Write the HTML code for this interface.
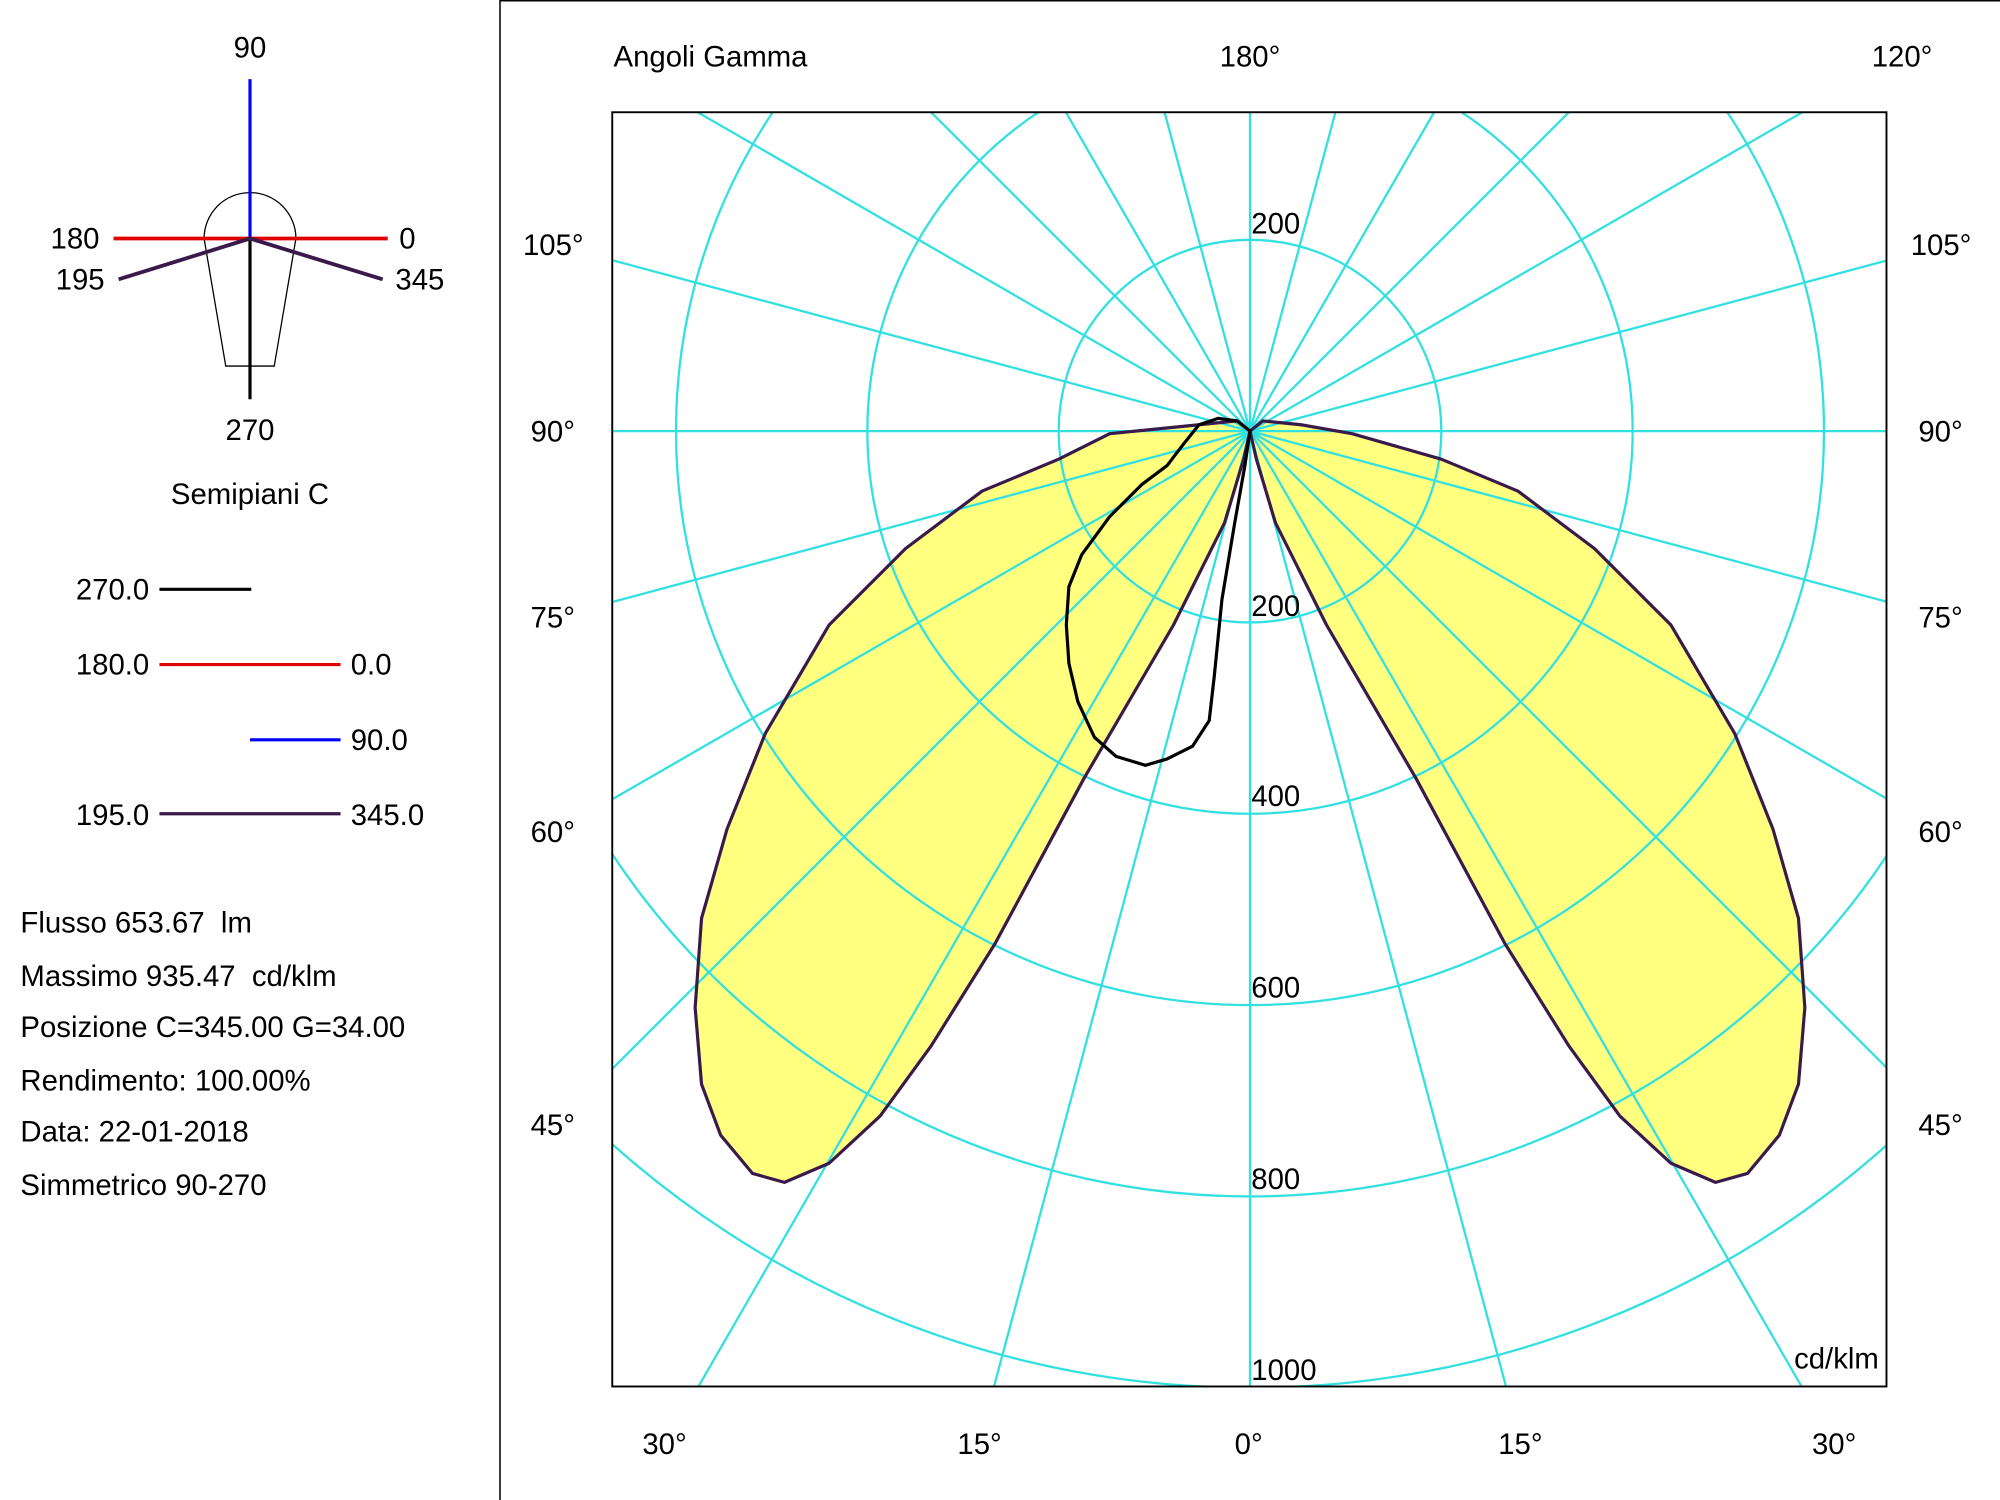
<!DOCTYPE html>
<html><head><meta charset="utf-8"><style>
html,body{margin:0;padding:0;background:#fff;overflow:hidden;width:2000px;height:1500px}
svg{display:block}
text{font-family:"Liberation Sans",Arial,sans-serif;font-size:23px;fill:#000;white-space:pre}
</style></head><body>
<svg width="2000" height="1500" viewBox="0 0 1568 1176" xmlns="http://www.w3.org/2000/svg" xml:space="preserve">
<rect width="1568" height="1176" fill="#fff"/>
<line x1="392" y1="0" x2="392" y2="1176" stroke="#000" stroke-width="1.2"/>
<line x1="392" y1="0.6" x2="1568" y2="0.6" stroke="#000" stroke-width="1.2"/>
<path d="M160,187 A36,36 0 0 1 232,187 L215,287 L177,287 Z" fill="none" stroke="#000" stroke-width="1"/>
<line x1="196" y1="187" x2="196" y2="313" stroke="#000" stroke-width="2.5"/>
<line x1="196" y1="62" x2="196" y2="187" stroke="#0000ff" stroke-width="2.5"/>
<line x1="89" y1="187" x2="304" y2="187" stroke="#e00000" stroke-width="3"/>
<polyline points="93,219 196,187 300,219" fill="none" stroke="#3a1a4a" stroke-width="3"/>
<text x="196" y="45" text-anchor="middle">90</text>
<text x="78" y="195" text-anchor="end">180</text>
<text x="313" y="195">0</text>
<text x="82" y="227" text-anchor="end">195</text>
<text x="310" y="227">345</text>
<text x="196" y="345" text-anchor="middle">270</text>
<text x="196" y="395" text-anchor="middle">Semipiani C</text>
<text x="117" y="470" text-anchor="end">270.0</text>
<line x1="125" y1="462" x2="197" y2="462" stroke="#000" stroke-width="2.5"/>
<text x="117" y="529" text-anchor="end">180.0</text>
<line x1="125" y1="521" x2="267" y2="521" stroke="#e00000" stroke-width="2.5"/>
<text x="275" y="529">0.0</text>
<line x1="196" y1="580" x2="267" y2="580" stroke="#0000ff" stroke-width="2.5"/>
<text x="275" y="588">90.0</text>
<text x="117" y="647" text-anchor="end">195.0</text>
<line x1="125" y1="638" x2="267" y2="638" stroke="#3a1a4a" stroke-width="2.5"/>
<text x="275" y="647">345.0</text>
<text x="16" y="731">Flusso 653.67  lm</text>
<text x="16" y="773">Massimo 935.47  cd/klm</text>
<text x="16" y="813">Posizione C=345.00 G=34.00</text>
<text x="16" y="855">Rendimento: 100.00%</text>
<text x="16" y="895">Data: 22-01-2018</text>
<text x="16" y="937">Simmetrico 90-270</text>
<defs><clipPath id="c"><rect x="480" y="88" width="999" height="999"/></clipPath></defs>
<g clip-path="url(#c)">
<polygon fill="#ffff80" points="980,338 990,330 1020,333 1060,340 1130,360 1190,385 1250,430 1310,490 1360,575 1390,650 1410,720 1415,790 1410,850 1395,890 1370,920 1345,927 1310,912 1270,875 1230,820 1180,740 1110,610 1040,490 1000,410 985,360"/>
<polygon fill="#ffff80" points="980,338 970,330 940,333 870,340 830,360 770,385 710,430 650,490 600,575 570,650 550,720 545,790 550,850 565,890 590,920 615,927 650,912 690,875 730,820 780,740 850,610 920,490 960,410 975,360"/>
<g fill="none" stroke="#33e0e0" stroke-width="1.8">
<circle cx="980" cy="338" r="150"/><circle cx="980" cy="338" r="300"/><circle cx="980" cy="338" r="450"/><circle cx="980" cy="338" r="600"/><circle cx="980" cy="338" r="750"/><circle cx="980" cy="338" r="900"/>
<g id="sp">
<line x1="980" y1="338" x2="980" y2="-1200"/>
<line x1="980" y1="338" x2="980" y2="-1200" transform="rotate(15 980 338)"/>
<line x1="980" y1="338" x2="980" y2="-1200" transform="rotate(30 980 338)"/>
<line x1="980" y1="338" x2="980" y2="-1200" transform="rotate(45 980 338)"/>
<line x1="980" y1="338" x2="980" y2="-1200" transform="rotate(60 980 338)"/>
<line x1="980" y1="338" x2="980" y2="-1200" transform="rotate(75 980 338)"/>
<line x1="980" y1="338" x2="980" y2="-1200" transform="rotate(90 980 338)"/>
<line x1="980" y1="338" x2="980" y2="-1200" transform="rotate(105 980 338)"/>
<line x1="980" y1="338" x2="980" y2="-1200" transform="rotate(120 980 338)"/>
<line x1="980" y1="338" x2="980" y2="-1200" transform="rotate(135 980 338)"/>
<line x1="980" y1="338" x2="980" y2="-1200" transform="rotate(150 980 338)"/>
<line x1="980" y1="338" x2="980" y2="-1200" transform="rotate(165 980 338)"/>
</g>
<use href="#sp" transform="rotate(180 980 338)"/>
</g>
<polygon fill="none" stroke="#3a1a4a" stroke-width="2.5" stroke-linejoin="round" points="980,338 990,330 1020,333 1060,340 1130,360 1190,385 1250,430 1310,490 1360,575 1390,650 1410,720 1415,790 1410,850 1395,890 1370,920 1345,927 1310,912 1270,875 1230,820 1180,740 1110,610 1040,490 1000,410 985,360"/>
<polygon fill="none" stroke="#3a1a4a" stroke-width="2.5" stroke-linejoin="round" points="980,338 970,330 940,333 870,340 830,360 770,385 710,430 650,490 600,575 570,650 550,720 545,790 550,850 565,890 590,920 615,927 650,912 690,875 730,820 780,740 850,610 920,490 960,410 975,360"/>
<polygon fill="none" stroke="#000" stroke-width="2.5" stroke-linejoin="round" points="980,338 970,330 955,328 940,333 928,348 915,365 895,380 870,405 848,435 838,460 836,490 838,520 845,550 858,578 875,593 898,600 915,595 935,585 948,565 952,530 958,470 968,410 976,365"/>
</g>
<rect x="480" y="88" width="999" height="999" fill="none" stroke="#000" stroke-width="1.5"/>
<text x="481" y="52">Angoli Gamma</text>
<text x="980" y="52" text-anchor="middle">180°</text>
<text x="1515" y="52" text-anchor="end">120°</text>
<text x="410" y="200">105°</text><text x="1498" y="200">105°</text>
<text x="416" y="346">90°</text><text x="1504" y="346">90°</text>
<text x="416" y="492">75°</text><text x="1504" y="492">75°</text>
<text x="416" y="660">60°</text><text x="1504" y="660">60°</text>
<text x="416" y="890">45°</text><text x="1504" y="890">45°</text>
<text x="521" y="1140" text-anchor="middle">30°</text>
<text x="768" y="1140" text-anchor="middle">15°</text>
<text x="979" y="1140" text-anchor="middle">0°</text>
<text x="1192" y="1140" text-anchor="middle">15°</text>
<text x="1438" y="1140" text-anchor="middle">30°</text>
<text x="981" y="183">200</text>
<text x="981" y="483">200</text>
<text x="981" y="632">400</text>
<text x="981" y="782">600</text>
<text x="981" y="932">800</text>
<text x="981" y="1082">1000</text>
<text x="1473" y="1073" text-anchor="end">cd/klm</text>
</svg>
</body></html>
